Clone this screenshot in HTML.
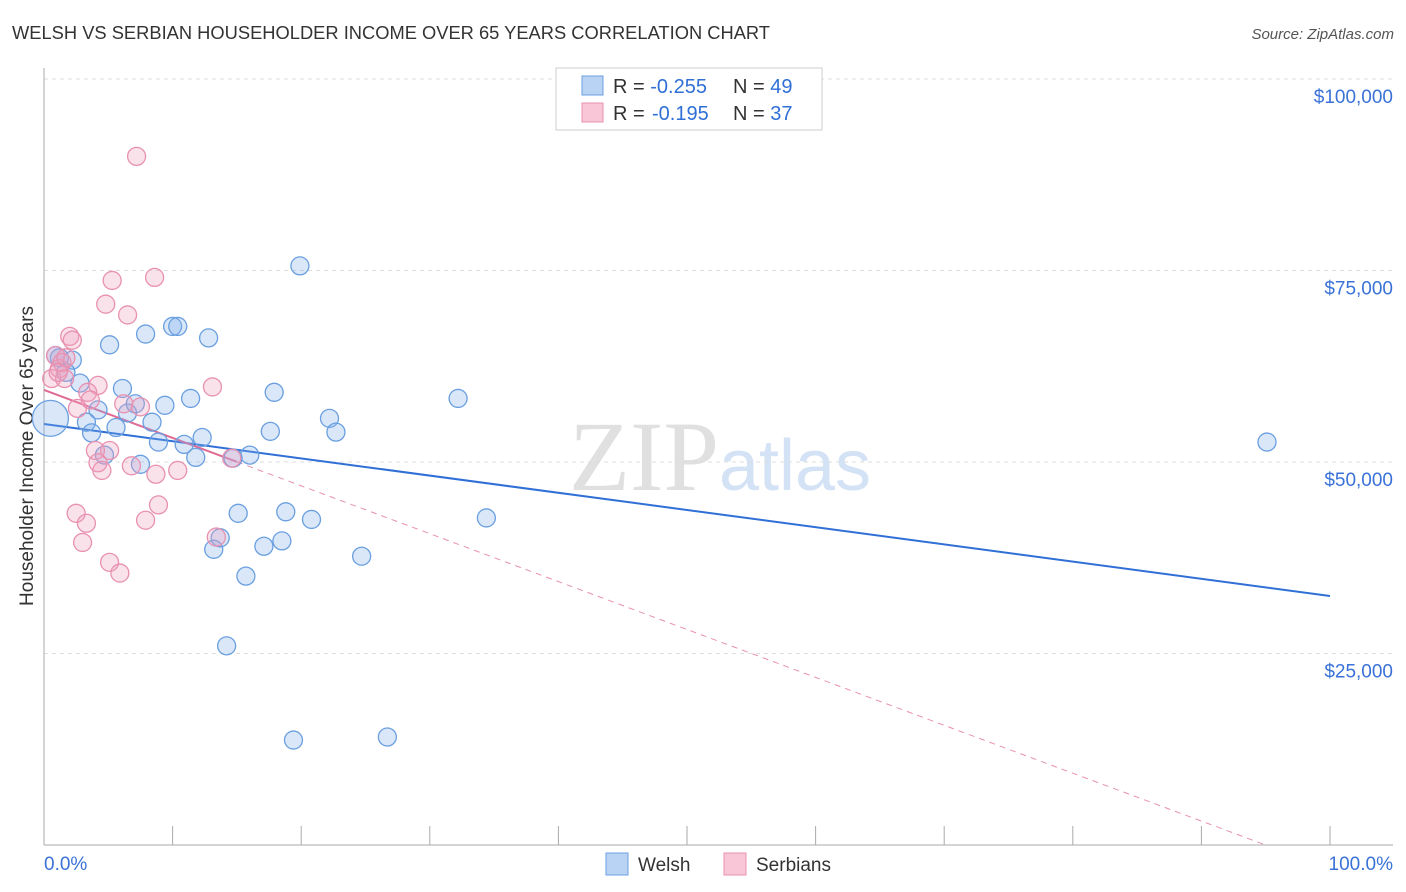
<!DOCTYPE html>
<html><head><meta charset="utf-8">
<style>
body{margin:0;background:#fff;font-family:"Liberation Sans",sans-serif;}
#wrap{position:relative;width:1406px;height:892px;overflow:hidden;}
</style></head>
<body>
<div id="wrap">
<svg id="chart" width="1406" height="892" xmlns="http://www.w3.org/2000/svg">
<text x="12" y="39" font-size="18" fill="#333" textLength="758" lengthAdjust="spacingAndGlyphs">WELSH VS SERBIAN HOUSEHOLDER INCOME OVER 65 YEARS CORRELATION CHART</text>
<text x="1394" y="39" font-size="15" fill="#555" font-style="italic" text-anchor="end">Source: ZipAtlas.com</text>
<text x="33" y="456" font-size="19" fill="#333" text-anchor="middle" transform="rotate(-90 33 456)">Householder Income Over 65 years</text>
<text x="720" y="490" font-size="100" fill="#ddd" text-anchor="middle" font-family="Liberation Serif,serif"><tspan fill="#e0e0e0">ZIP</tspan><tspan fill="#d3e2f5" font-family="Liberation Sans,sans-serif" font-size="72">atlas</tspan></text>
<g id="grid"></g>
<g id="axes"></g>
<g id="trend"></g>
<g id="pts"></g>
<g>
<rect x="556" y="68" width="266" height="62" fill="#fff" stroke="#ccc"/>
<rect x="582" y="76" width="21" height="19" fill="#b9d3f5" stroke="#6a9fe0"/>
<text x="613" y="93" font-size="20" fill="#333">R = <tspan fill="#2f6fd6">-0.255</tspan><tspan x="733">N = </tspan><tspan fill="#2f6fd6">49</tspan></text>
<rect x="582" y="103" width="21" height="19" fill="#f8c6d6" stroke="#e891b0"/>
<text x="613" y="120" font-size="20" fill="#333">R = <tspan x="652" fill="#2f6fd6">-0.195</tspan><tspan x="733">N = </tspan><tspan fill="#2f6fd6">37</tspan></text>
</g>
<g>
<rect x="606" y="853" width="22" height="22" fill="#b9d3f5" stroke="#6a9fe0"/>
<text x="638" y="871" font-size="19" fill="#333">Welsh</text>
<rect x="724" y="853" width="22" height="22" fill="#f8c6d6" stroke="#e891b0"/>
<text x="756" y="871" font-size="19" fill="#333">Serbians</text>
</g>
</svg>
</div>
<script>
const yTicks=[25000,50000,75000,100000];
const yTickLabels=["$25,000","$50,000","$75,000","$100,000"];
const xTickCount=10;
const welshX=[0.5,1.2,2.2,1.7,2.8,4.2,3.3,3.7,5.1,5.6,6.1,6.5,7.1,7.5,7.9,8.4,8.9,9.4,10.0,10.4,10.9,11.4,11.8,12.3,12.8,13.2,13.7,14.2,15.1,15.7,16.0,17.1,17.6,17.9,18.5,18.8,19.4,19.9,20.8,22.2,22.7,24.7,26.7,32.2,34.4,95.1,4.7,0.9,14.7];
const welshY=[55.7,63.6,63.3,61.7,60.3,56.8,55.2,53.8,65.3,54.5,59.6,56.4,57.6,49.7,66.7,55.2,52.6,57.4,67.7,67.7,52.3,58.3,50.6,53.2,66.2,38.6,40.1,26.0,43.3,35.1,50.9,39.0,54.0,59.1,39.7,43.5,13.7,75.6,42.5,55.7,53.9,37.7,14.1,58.3,42.7,52.6,50.9,63.9,50.5];
const serbX=[7.2,5.3,8.6,4.8,6.5,2.0,2.2,0.9,1.2,0.6,1.6,4.2,13.1,3.4,3.6,6.2,7.5,2.6,5.1,4.0,4.2,4.5,6.8,8.7,10.4,14.6,13.4,8.9,2.5,3.3,7.9,3.0,5.1,5.9,1.4,1.7,1.1];
const serbY=[89.9,73.7,74.1,70.6,69.2,66.4,65.9,63.9,62.2,60.9,60.9,60.0,59.8,59.1,58.1,57.6,57.2,57.0,51.5,51.5,49.9,48.9,49.5,48.4,48.9,50.5,40.2,44.4,43.3,42.0,42.4,39.5,36.9,35.5,63.0,63.6,61.7];
const welshTrend=[54961,32507];
const serbTrend=[59400,-3130];

const NS="http://www.w3.org/2000/svg";
const X0=44,X1=1330,Y0=845,Ymax=79;
const xs=p=>X0+(X1-X0)*p/100;
const ys=v=>Y0-(Y0-Ymax)*v/100000;
function mk(tag,attrs,parent){const e=document.createElementNS(NS,tag);for(const k in attrs)e.setAttribute(k,attrs[k]);parent.appendChild(e);return e;}
const grid=document.getElementById('grid'),axes=document.getElementById('axes'),trend=document.getElementById('trend'),pts=document.getElementById('pts');
yTicks.forEach((v,i)=>{
 const l=mk('line',{x1:X0,x2:1393,y1:ys(v),y2:ys(v),stroke:'#ddd','stroke-dasharray':'4 4'},grid);
 
 
 const t=mk('text',{x:1393,y:ys(v)+24,'font-size':19,fill:'#3a72d8','text-anchor':'end'},axes);
 t.textContent=yTickLabels[i];
 
 
});
const ax=mk('line',{x1:X0,x2:X0,y1:68,y2:Y0,stroke:'#aaa'},axes);


const bx=mk('line',{x1:X0,x2:1393,y1:Y0,y2:Y0,stroke:'#aaa'},axes);


for(let i=0;i<=xTickCount;i++){
 const tk=mk('line',{x1:xs(i*10),x2:xs(i*10),y1:826,y2:Y0,stroke:'#aaa'},axes);
 
 
}
const xl=mk('text',{x:44,y:870,'font-size':19,fill:'#3a72d8'},axes);xl.textContent='0.0%';


const xr=mk('text',{x:1393,y:870,'font-size':19,fill:'#3a72d8','text-anchor':'end'},axes);xr.textContent='100.0%';


const wl=mk('line',{x1:xs(0),y1:ys(welshTrend[0]),x2:xs(100),y2:ys(welshTrend[1]),stroke:'#2f6fd6','stroke-width':2},trend);


const sy=p=>serbTrend[0]+(serbTrend[1]-serbTrend[0])*p/100;
const pz=serbTrend[0]/(serbTrend[0]-serbTrend[1])*100;
const sd=mk('line',{x1:xs(15),y1:ys(sy(15)),x2:xs(pz),y2:ys(0),stroke:'#e891b0','stroke-width':1,'stroke-dasharray':'6 5'},trend);


const ss=mk('line',{x1:xs(0),y1:ys(sy(0)),x2:xs(15),y2:ys(sy(15)),stroke:'#e06a94','stroke-width':2},trend);


welshX.forEach((x,i)=>{
 const c=mk('circle',{cx:xs(x),cy:ys(welshY[i]*1000),r:i===0?18:9,fill:'rgba(130,175,235,0.3)',stroke:'#6a9fe0','stroke-width':1.3},pts);
 
 
});
serbX.forEach((x,i)=>{
 const c=mk('circle',{cx:xs(x),cy:ys(serbY[i]*1000),r:9,fill:'rgba(240,160,190,0.3)',stroke:'#e891b0','stroke-width':1.3},pts);
 
 
});
</script>
</body></html>
